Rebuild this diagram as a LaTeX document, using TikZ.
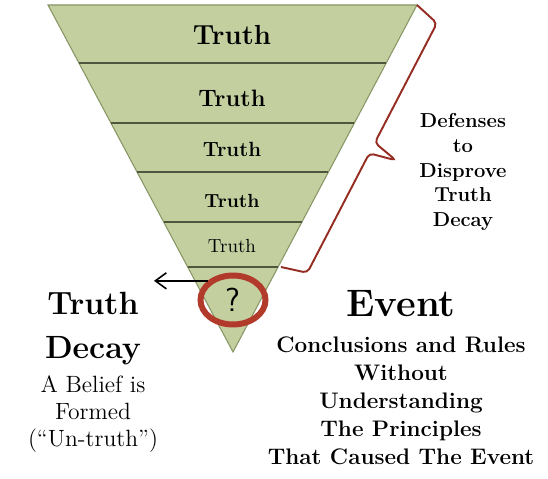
\documentclass[tikz,border=0pt]{standalone}
\usepackage{tikz}
\usetikzlibrary{shapes.geometric, arrows.meta, positioning, calc}
\definecolor{funnelgreen}{RGB}{196,207,160}
\definecolor{funneledge}{RGB}{135,150,100}
\definecolor{bandline}{RGB}{80,85,62}
\definecolor{bracered}{RGB}{150,45,35}
\definecolor{ringred}{RGB}{178,58,42}
\newcommand{\fsz}[2]{\fontsize{#1}{#2}\selectfont}

\begin{document}
\begin{tikzpicture}[
    x=0.02cm, y=-0.02cm,
    truth/.style={inner sep=0pt, font=\fsz{#1}{#1}\bfseries},
    truthlight/.style={inner sep=0pt, font=\fsz{#1}{#1}},
    band/.style={draw=bandline, line width=1.1pt},
    defbrace/.style={draw=bracered, line width=1.1pt, rounded corners=2.5pt},
    sidetext/.style={align=center, inner sep=0pt, font=\fsz{11.5}{14.2}\bfseries},
    ring/.style={ellipse, draw=ringred, line width=3.4pt, minimum width=1.3cm, minimum height=0.98cm, inner sep=0pt, font=\fsz{19}{19}\sffamily},
    arr/.style={-{Straight Barb[length=2.2mm, width=3.2mm]}, line width=0.9pt},
    bigtitle/.style={align=center, inner sep=0pt, font=\fsz{#1}{25}\bfseries},
    subtext/.style={align=center, inner sep=0pt, font=\fsz{13.4}{15.6}},
    eventtext/.style={align=center, inner sep=0pt, font=\fsz{12.8}{16}\bfseries}
]
    \useasboundingbox (0,0) rectangle (548,479);

    % funnel
    \coordinate (tl) at (48,5);
    \coordinate (tr) at (417,5);
    \coordinate (apex) at (233,352);
    \fill[funnelgreen] (tl) -- (tr) -- (apex) -- cycle;
    \draw[funneledge, line width=0.6pt] (tl) -- (tr) -- (apex) -- cycle;
    \foreach \y in {63,123,172,222,267}
        \draw[band] ($(tl)!{(\y-5)/347}!(apex)$) -- ($(tr)!{(\y-5)/347}!(apex)$);

    \node (t1) [truth=15.7] at (232,35) {Truth};
    \node (t2) [truth=13.5] at (232,98) {Truth};
    \node (t3) [truth=11.7] at (232,149) {Truth};
    \node (t4) [truth=10.8] at (232,201) {Truth};
    \node (t5) [truthlight=10.8] at (232,246) {Truth};

    % brace and its label
    \coordinate (bracebot) at (281,267);
    \draw[defbrace] (tr) -- (436.9,23.2) -- (374.8,142.7) -- (396,160.4) -- (369.3,153.3) -- (307.3,272.8) -- (bracebot);
    \node (defense) [sidetext] at (463,172) {Defenses\\to\\Disprove\\Truth\\Decay};

    % the unknown at the tip
    \node (q) [ring] at (233,300) {?};
    \coordinate (decaytip) at (154,282);
    \draw[arr] (q.143) -- (q.143 -| decaytip);

    \node (decay) [bigtitle=18.3] at (93,329) {Truth\\Decay};
    \node (belief) [subtext] at (93,414) {A Belief is\\Formed\\(“Un-truth”)};

    \node (event) [bigtitle=21.8] at (401,304) {Event};
    \node (concl) [eventtext] at (401,401) {Conclusions and Rules\\Without\\Understanding\\The Principles\\That Caused The Event};
\end{tikzpicture}
\end{document}
